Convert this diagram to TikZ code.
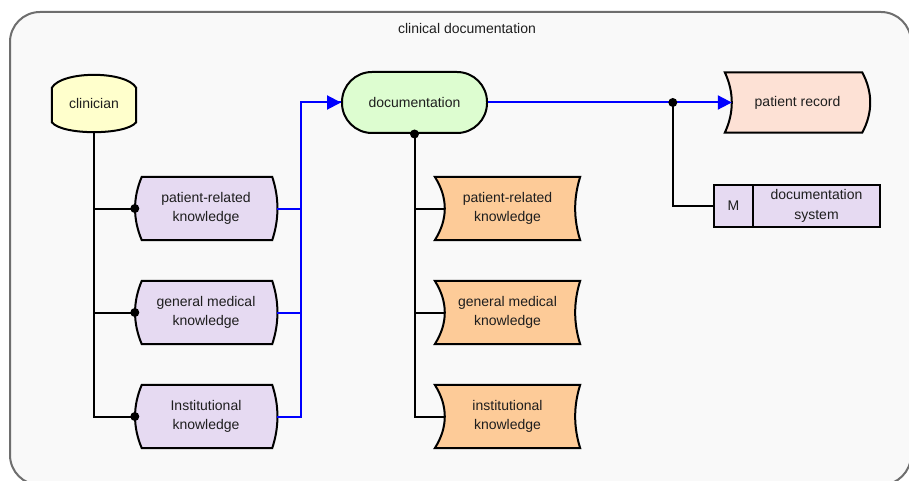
\documentclass[tikz,border=0pt]{standalone}
\usepackage{fontspec}
\setmainfont{Liberation Sans}
\usepackage{tikz}
\usetikzlibrary{positioning, calc, arrows.meta, backgrounds}

\definecolor{framefill}{HTML}{F9F9F9}
\definecolor{framedraw}{HTML}{6E6E6E}
\definecolor{clincol}{HTML}{FFFFCC}
\definecolor{knowcol}{HTML}{E6DAF2}
\definecolor{doccol}{HTML}{DDFDD0}
\definecolor{infocol}{HTML}{FDCB98}
\definecolor{reccol}{HTML}{FDE1D5}
\definecolor{txtcol}{HTML}{1E1E1E}
\definecolor{flowcol}{HTML}{0000FF}

% outlines drawn behind the named nodes
\newcommand{\hexshape}[1]{%
  \filldraw[edge, fill=clincol] ([yshift=-13]#1.north west) -- ([yshift=10]#1.south west)
    .. controls ([xshift=10,yshift=-3.3]#1.south west) and ([xshift=-10,yshift=-3.3]#1.south east) .. ([yshift=10]#1.south east)
    -- ([yshift=-13]#1.north east)
    .. controls ([xshift=-10,yshift=4.3]#1.north east) and ([xshift=10,yshift=4.3]#1.north west) .. cycle;}
\newcommand{\knowshape}[1]{%
  \filldraw[edge, fill=knowcol] ([xshift=7]#1.north west) -- ([xshift=-5]#1.north east)
    .. controls ([xshift=2]$(#1.north east)!.33!(#1.south east)$) and ([xshift=2]$(#1.north east)!.67!(#1.south east)$) .. ([xshift=-5]#1.south east)
    -- ([xshift=7]#1.south west)
    .. controls ([xshift=-2]$(#1.north west)!.67!(#1.south west)$) and ([xshift=-2]$(#1.north west)!.33!(#1.south west)$) .. cycle;}
\newcommand{\infoshape}[1]{%
  \filldraw[edge, fill=infocol] (#1.north west) -- (#1.north east)
    .. controls ([xshift=-6.7]$(#1.north east)!.33!(#1.south east)$) and ([xshift=-6.7]$(#1.north east)!.67!(#1.south east)$) .. (#1.south east)
    -- (#1.south west)
    .. controls ([xshift=13.3]$(#1.north west)!.67!(#1.south west)$) and ([xshift=13.3]$(#1.north west)!.33!(#1.south west)$) .. cycle;}
\newcommand{\recshape}[1]{%
  \filldraw[edge, fill=reccol] (#1.north west) -- ([xshift=-8]#1.north east)
    .. controls ([xshift=2.7]$(#1.north east)!.33!(#1.south east)$) and ([xshift=2.7]$(#1.north east)!.67!(#1.south east)$) .. ([xshift=-8]#1.south east)
    -- (#1.south west)
    .. controls ([xshift=9.3]$(#1.north west)!.67!(#1.south west)$) and ([xshift=9.3]$(#1.north west)!.33!(#1.south west)$) .. cycle;}

\begin{document}
\begin{tikzpicture}[x=1pt, y=-1pt,
    every node/.style={font=\fontsize{14}{19.5}\selectfont, text=txtcol, align=center, inner sep=0pt},
    edge/.style={draw=black, line width=2pt},
    link/.style={draw=black, line width=2pt},
    flow/.style={draw=flowcol, line width=2pt},
    tip/.style={-{Triangle[length=14pt, width=14pt]}},
    frame/.style={draw=framedraw, fill=framefill, line width=2pt, rounded corners=30pt},
    hexbox/.style={minimum width=84, minimum height=57},
    knowbox/.style={minimum width=142, minimum height=63},
    infobox/.style={minimum width=145, minimum height=63},
    recbox/.style={minimum width=145, minimum height=60},
    docbox/.style={edge, fill=doccol, rounded corners=30pt, minimum width=145, minimum height=61},
    sysbox/.style={edge, fill=knowcol, outer sep=0pt, minimum height=42}]
    \useasboundingbox (0,0) rectangle (909,481);

    % Knoten
    \node (title) at (467,28) {clinical documentation};
    \node[hexbox] (clinician) at (94,103.5) {clinician};
    \node[knowbox] (patknow) at (206,208.5) {patient-related\\knowledge};
    \node[knowbox] (medknow) at (206,312.5) {general medical\\knowledge};
    \node[knowbox] (instknow) at (206,416.5) {Institutional\\knowledge};
    \node[docbox] (documentation) at (414.5,102.5) {documentation};
    \node[infobox] (patinfo) at (507.5,208.5) {patient-related\\knowledge};
    \node[infobox] (medinfo) at (507.5,312.5) {general medical\\knowledge};
    \node[infobox] (instinfo) at (507.5,416.5) {institutional\\knowledge};
    \node[recbox] (record) at (797.5,102.5) {patient record};
    \node[sysbox, minimum width=39] (modul) at (733.5,206) {M};
    \node[sysbox, minimum width=127, right=0pt of modul] (docsys) {documentation\\system};
    \coordinate[left=52pt of record.west] (split);

    \begin{pgfonlayer}{background}
        \draw[frame] (10,12) rectangle (911,485);
        \hexshape{clinician}
        \knowshape{patknow}
        \knowshape{medknow}
        \knowshape{instknow}
        \infoshape{patinfo}
        \infoshape{medinfo}
        \infoshape{instinfo}
        \recshape{record}
    \end{pgfonlayer}

    % Kanten
    \draw[link] (clinician) -- (clinician |- instknow) -- (instknow);
    \draw[link] (clinician |- patknow) -- (patknow);
    \draw[link] (clinician |- medknow) -- (medknow);
    \draw[flow] (patknow.east) -- ++(24,0) |- (documentation.west);
    \draw[flow] (medknow.east) -- ++(24,0) |- (documentation.west);
    \draw[flow, tip] (instknow.east) -- ++(24,0) |- (documentation.west);
    \draw[link] (documentation) -- (documentation |- instinfo) -- ([xshift=10]instinfo.west);
    \draw[link] (documentation |- patinfo) -- ([xshift=10]patinfo.west);
    \draw[link] (documentation |- medinfo) -- ([xshift=10]medinfo.west);
    \draw[flow, tip] (documentation.east) -- ([xshift=7]record.west);
    \draw[link] (split) |- (modul);

    \fill (patknow.west) circle (4.5);
    \fill (medknow.west) circle (4.5);
    \fill (instknow.west) circle (4.5);
    \fill (documentation.south) circle (4.5);
    \fill (split) circle (4.5);
\end{tikzpicture}
\end{document}
